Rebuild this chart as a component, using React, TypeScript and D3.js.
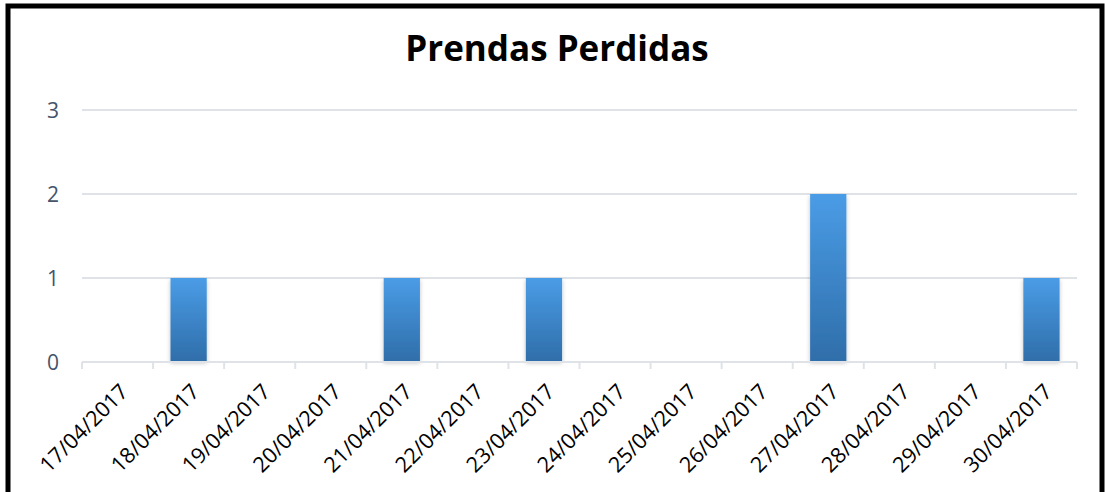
import React, { useEffect, useRef } from 'react';
import * as d3 from 'd3';

const fechas = [
  '17/04/2017', '18/04/2017', '19/04/2017', '20/04/2017', '21/04/2017',
  '22/04/2017', '23/04/2017', '24/04/2017', '25/04/2017', '26/04/2017',
  '27/04/2017', '28/04/2017', '29/04/2017', '30/04/2017',
];
const prendas = [0, 1, 0, 0, 1, 0, 1, 0, 0, 0, 2, 0, 0, 1];
const yTicks = [0, 1, 2, 3];
const titulo = 'Prendas Perdidas';

export default function App() {
  const ref = useRef<SVGSVGElement>(null);

  useEffect(() => {
    const width = 1105;
    const height = 492;
    const left = 82;
    const plotW = 995;
    const y0 = 362;

    const svg = d3.select(ref.current);
    svg.selectAll('*').remove();
    svg.attr('width', width).attr('height', height);

    const defs = svg.append('defs');
    const grad = defs.append('linearGradient')
      .attr('id', 'barGrad')
      .attr('x1', 0).attr('y1', 0).attr('x2', 0).attr('y2', 1);
    grad.append('stop').attr('offset', '0%').attr('stop-color', '#4a9ce6');
    grad.append('stop').attr('offset', '100%').attr('stop-color', '#2f6eaa');

    const shadow = defs.append('filter').attr('id', 'sombra')
      .attr('x', '-30%').attr('y', '-10%').attr('width', '160%').attr('height', '130%');
    shadow.append('feDropShadow')
      .attr('dx', 0).attr('dy', 2).attr('stdDeviation', 2)
      .attr('flood-color', '#000').attr('flood-opacity', 0.25);

    // marco negro
    svg.append('rect')
      .attr('x', 8).attr('y', 6)
      .attr('width', 1094).attr('height', 500)
      .attr('fill', 'white')
      .attr('stroke', 'black')
      .attr('stroke-width', 5);

    svg.append('text')
      .attr('x', 557).attr('y', 61)
      .attr('text-anchor', 'middle')
      .style('font-family', '"Open Sans", sans-serif')
      .style('font-weight', 'bold')
      .style('font-size', '35px')
      .text(titulo);

    const x = d3.scaleBand()
      .domain(fechas)
      .range([left, left + plotW])
      .paddingInner(0.49)
      .paddingOuter(0.245);

    const y = d3.scaleLinear()
      .domain([0, 3])
      .range([y0, 110]);

    const g = svg.append('g');

    // gridlines
    g.selectAll('line.grid')
      .data(yTicks.filter(d => d > 0))
      .enter()
      .append('line')
      .attr('class', 'grid')
      .attr('x1', left).attr('x2', left + plotW)
      .attr('y1', d => y(d)).attr('y2', d => y(d))
      .attr('stroke', '#dfe3e8')
      .attr('stroke-width', 2);

    // y labels
    g.selectAll('text.ylab')
      .data(yTicks)
      .enter()
      .append('text')
      .attr('class', 'ylab')
      .attr('x', 59)
      .attr('y', d => y(d) + 8)
      .attr('text-anchor', 'end')
      .attr('fill', '#44546a')
      .style('font-family', '"Open Sans", sans-serif')
      .style('font-size', '21px')
      .text(d => d);

    // bars
    g.selectAll('rect.bar')
      .data(prendas.map((v, i) => ({ fecha: fechas[i], v })).filter(d => d.v > 0))
      .enter()
      .append('rect')
      .attr('class', 'bar')
      .attr('x', d => x(d.fecha)!)
      .attr('y', d => y(d.v))
      .attr('width', x.bandwidth())
      .attr('height', d => y(0) - y(d.v) - 1)
      .attr('fill', 'url(#barGrad)')
      .attr('filter', 'url(#sombra)');

    // x axis
    const step = x.step();
    const edges = d3.range(fechas.length + 1).map(i => left + i * step);
    g.append('line')
      .attr('x1', left).attr('x2', left + plotW)
      .attr('y1', y0).attr('y2', y0)
      .attr('stroke', '#dfe3e8').attr('stroke-width', 2);
    g.selectAll('line.tick')
      .data(edges)
      .enter()
      .append('line')
      .attr('class', 'tick')
      .attr('x1', d => d).attr('x2', d => d)
      .attr('y1', y0).attr('y2', y0 + 7)
      .attr('stroke', '#dfe3e8').attr('stroke-width', 2);

    g.selectAll('text.xlab')
      .data(fechas)
      .enter()
      .append('text')
      .attr('class', 'xlab')
      .attr('text-anchor', 'end')
      .attr('transform', d => `translate(${x(d)! + x.bandwidth() / 2 + 12}, ${y0 + 31}) rotate(-45)`)
      .attr('fill', 'black')
      .style('font-family', '"Open Sans", sans-serif')
      .style('font-size', '21.5px')
      .text(d => d);
  }, []);

  return (
    <svg ref={ref} style={{ position: 'absolute', left: 0, top: 0, display: 'block' }}></svg>
  );
}
